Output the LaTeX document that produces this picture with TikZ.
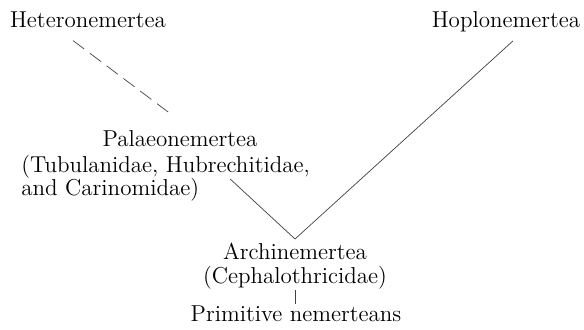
\documentclass[tikz,border=0pt]{standalone}
\usetikzlibrary{positioning,calc}

\begin{document}
\begin{tikzpicture}[x=0.5pt, y=-0.5pt,
				taxon/.style={inner sep=2pt, text=black,
				font=\fontsize{11.5}{11.6}\selectfont},
				family/.style={taxon, align=left},
				branch/.style={line width=0.35pt, black!75},
				doubtful/.style={branch, dash pattern=on 7pt off 3.5pt}
				]
\useasboundingbox (0,0) rectangle (584,330);

%% Top of the tree
\node [taxon, anchor=base] (hetero) at (88,28) {Heteronemertea};
\node [taxon, anchor=base] (hoplo) at (506,28) {Hoplonemertea};

%% Palaeonemertea block
\node [taxon, anchor=base] (palaeo) at (180,147) {Palaeonemertea};
\node [family, anchor=north west] (palaeofam) at (17,151) {(Tubulanidae, Hubrechitidae,\\and Carinomidae)};

%% Root
\coordinate (fork) at (295,239);
\node [taxon, align=center, below=0pt of fork] (archi) {Archinemertea\\(Cephalothricidae)};
\node [taxon, anchor=base] (primitive) at (296,322) {Primitive nemerteans};

%% Connections
\draw [doubtful] ($(hetero.south)+(-15,8)$) -- ($(palaeo.north)+(-7,-11)$);
\draw [branch] ($(palaeofam.south east)+(-84,-27)$) -- (fork);
\draw [branch] ($(hoplo.south)+(7,4)$) -- (fork);
\draw [branch] ($(archi.south)+(0,-3)$) -- ($(archi.south |- primitive.north)+(0,2)$);

\end{tikzpicture}
\end{document}
